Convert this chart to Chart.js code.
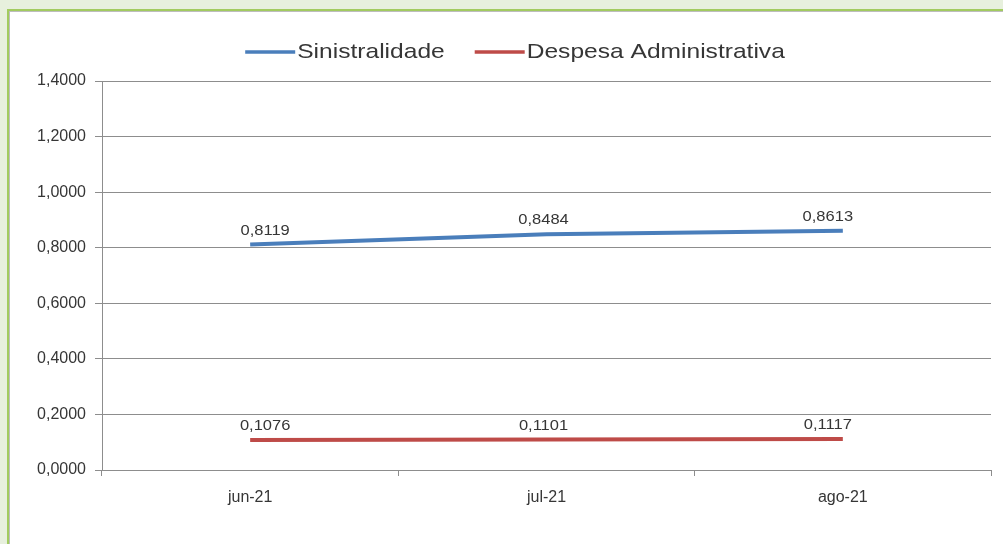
<!DOCTYPE html>
<html>
<head>
<meta charset="utf-8">
<title>Sinistralidade x Despesa Administrativa</title>
<script src="https://cdn.jsdelivr.net/npm/chart.js@4.4.1/dist/chart.umd.min.js"></script>
<style>
    html, body { margin: 0; padding: 0; }
    body { width: 1003px; height: 544px; background: #e7f0dd; position: relative; overflow: hidden; }
    /* white chart frame with the green edge of the original slide */
    .frame {
        position: absolute; left: 7px; top: 9px; width: 1010px; height: 560px;
        background: #fff;
        border-left: 2px solid #a2cb5f;
        border-top: 2px solid #a2cb5f;
        box-shadow: inset 1px 1px 0 #bdbdbd;
    }
    .chart-box { position: absolute; left: 0; top: 0; width: 1003px; height: 544px; }
</style>
</head>
<body>
<div class="frame"></div>
<div class="chart-box"><canvas id="lossChart"></canvas></div>
<script>
// data
const months = ['jun-21', 'jul-21', 'ago-21'];
const sinistralidade = [0.8119, 0.8484, 0.8613];
const despesaAdm = [0.1076, 0.1101, 0.1117];
const seriesNames = ['Sinistralidade', 'Despesa Administrativa'];
const yMin = 0;
const yMax = 1.4;
const yStep = 0.2;

const FONT = "'Liberation Sans', Arial, sans-serif";
const TEXT = '#363636';
const GRID = '#8d8d8d';

// pt-BR style number: 0,8119
const fmt = v => Number(v).toFixed(4).replace('.', ',');

// the source image is a bit stretched sideways, so hand-drawn text gets widened too
function wideText(ctx, str, x, y, sx) {
    ctx.save();
    ctx.translate(x, y);
    ctx.scale(sx, 1);
    ctx.fillText(str, 0, 0);
    ctx.restore();
}

// legend drawn by hand so it can sit where the original one is
const topLegend = {
    id: 'topLegend',
    afterDraw(chart) {
        const ctx = chart.ctx;
        const lineLen = 50, gap = 2, itemGap = 30, cx = 515, cy = 52, sx = 1.17;
        ctx.save();
        ctx.font = '21px ' + FONT;
        const items = chart.data.datasets.map(ds => ({
            label: ds.label, color: ds.borderColor,
            w: lineLen + gap + ctx.measureText(ds.label).width * sx
        }));
        const total = items.reduce((s, it) => s + it.w, 0) + itemGap * (items.length - 1);
        let x = cx - total / 2;
        items.forEach(it => {
            ctx.strokeStyle = it.color;
            ctx.lineWidth = 3.5;
            ctx.beginPath();
            ctx.moveTo(x, cy);
            ctx.lineTo(x + lineLen, cy);
            ctx.stroke();
            ctx.fillStyle = TEXT;
            ctx.textAlign = 'left';
            ctx.textBaseline = 'middle';
            wideText(ctx, it.label, x + lineLen + gap, cy, sx);
            x += it.w + itemGap;
        });
        ctx.restore();
    }
};

// value labels above each point
const valueLabels = {
    id: 'valueLabels',
    afterDatasetsDraw(chart) {
        const ctx = chart.ctx;
        const shiftX = [15, -3, -15];
        ctx.save();
        ctx.font = '15px ' + FONT;
        ctx.fillStyle = TEXT;
        ctx.textAlign = 'center';
        ctx.textBaseline = 'middle';
        chart.data.datasets.forEach((ds, i) => {
            chart.getDatasetMeta(i).data.forEach((pt, j) => {
                wideText(ctx, fmt(ds.data[j]), pt.x + shiftX[j], pt.y - 14, 1.1);
            });
        });
        ctx.restore();
    }
};

new Chart(document.getElementById('lossChart'), {
    type: 'line',
    data: {
        labels: months,
        datasets: [
            {
                label: seriesNames[0],
                data: sinistralidade,
                borderColor: '#4a7ebb',
                backgroundColor: '#4a7ebb',
                borderWidth: 4,
                pointRadius: 0,
                tension: 0
            },
            {
                label: seriesNames[1],
                data: despesaAdm,
                borderColor: '#be4b48',
                backgroundColor: '#be4b48',
                borderWidth: 4,
                pointRadius: 0,
                tension: 0
            }
        ]
    },
    options: {
        responsive: true,
        maintainAspectRatio: false,
        animation: false,
        layout: { padding: { top: 81, right: 12, left: 0, bottom: 0 } },
        plugins: {
            legend: { display: false },
            tooltip: { enabled: false }
        },
        scales: {
            x: {
                offset: true,
                afterFit: s => { s.height = 74; },
                grid: { offset: true, drawOnChartArea: false, drawTicks: true, tickLength: 6, color: GRID },
                border: { color: GRID },
                ticks: { color: TEXT, padding: 12, font: { family: FONT, size: 16 } }
            },
            y: {
                min: yMin,
                max: yMax,
                afterFit: s => { s.width = 102; },
                grid: { color: GRID, tickLength: 7 },
                border: { color: GRID },
                ticks: {
                    stepSize: yStep,
                    color: TEXT,
                    padding: 9,
                    font: { family: FONT, size: 16 },
                    callback: v => fmt(v)
                }
            }
        }
    },
    plugins: [topLegend, valueLabels]
});
</script>
</body>
</html>
